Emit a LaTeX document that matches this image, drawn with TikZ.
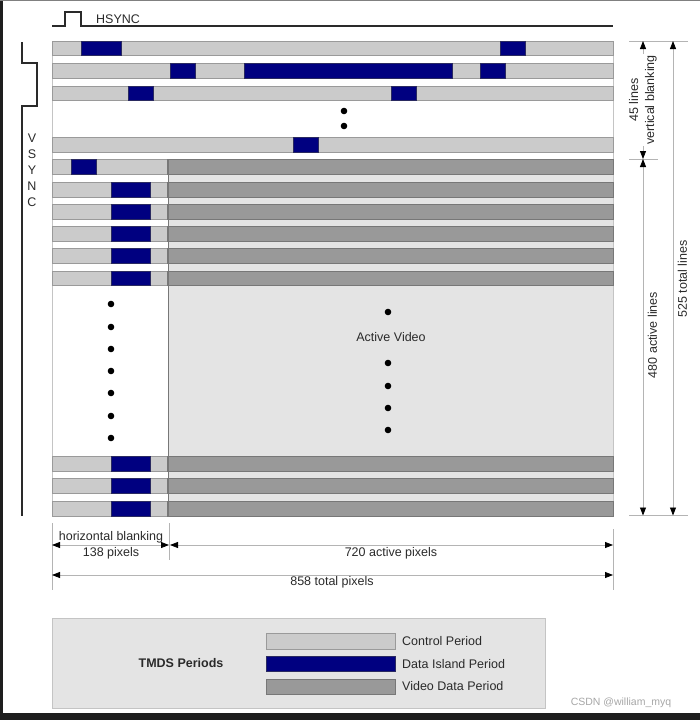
\documentclass[tikz,border=0pt]{standalone}
\usepackage{fontspec}
\setmainfont{Liberation Sans}
\usepackage{tikz}
\usetikzlibrary{arrows.meta}
\definecolor{ctrlgray}{HTML}{CBCBCB}
\definecolor{rowedge}{HTML}{9A9A9A}
\definecolor{islandblue}{HTML}{000080}
\definecolor{islandedge}{HTML}{2A2A60}
\definecolor{videogray}{HTML}{999999}
\definecolor{videoedge}{HTML}{777777}
\definecolor{activebg}{HTML}{E4E4E4}
\definecolor{dimgray}{HTML}{B4B4B4}
\definecolor{labelgray}{HTML}{2A2A2A}
\definecolor{framegray}{HTML}{C4C4C4}
\definecolor{screenedge}{HTML}{1E1E1E}

\begin{document}
\begin{tikzpicture}[x=1pt,y=-1pt]
\tikzset{ctrl/.style={draw=rowedge, fill=ctrlgray, line width=0.8pt},
  island/.style={draw=islandedge, fill=islandblue, line width=0.8pt},
  video/.style={draw=videoedge, fill=videogray, line width=0.8pt},
  lbl/.style={font=\fontsize{12.5}{16}\selectfont, text=labelgray, inner sep=1pt},
  dimline/.style={draw=dimgray, line width=0.8pt,
    arrows={Triangle[black,length=8pt,width=6pt]-Triangle[black,length=8pt,width=6pt]}},
  tick/.style={draw=dimgray, line width=0.8pt},
  sync/.style={draw=labelgray, line width=1.4pt},
  blob/.style={fill=black}
}
\useasboundingbox (0,0) rectangle (700,720);
\fill[screenedge] (0,0) rectangle (2.5,720);
\fill[screenedge] (0,713) rectangle (700,720);
\draw[gray, line width=0.8pt] (0,0.5) -- (700,0.5);

% sync signals
\draw[sync] (52,26) -- (65,26) -- (65,12) -- (81,12) -- (81,26) -- (613,26);
\node[lbl, anchor=west] (hsync) at (95,19) {HSYNC};
\draw[sync] (22,42) -- (22,63) -- (37,63) -- (37,106) -- (22,106) -- (22,516);
\node[lbl, align=center] (vsync) at (32,170) {V\\S\\Y\\N\\C};

% frame and active area
\fill[activebg] (168,159) rectangle (613,516);
\draw[framegray, line width=0.8pt] (52,41) rectangle (613,516);

% vertical blanking lines
\draw[ctrl] (52,41) rectangle (613,55);
\draw[island] (81,41) rectangle (121,55); \draw[island] (500,41) rectangle (525,55);
\draw[ctrl] (52,63) rectangle (613,78);
\draw[island] (170,63) rectangle (195,78); \draw[island] (244,63) rectangle (452,78);
\draw[island] (480,63) rectangle (505,78);
\draw[ctrl] (52,86) rectangle (613,100);
\draw[island] (128,86) rectangle (153,100); \draw[island] (391,86) rectangle (416,100);
\fill[blob] (344,111) circle (3.3); \fill[blob] (344,126) circle (3.3);
\draw[ctrl] (52,137) rectangle (613,152);
\draw[island] (293,137) rectangle (318,152);

% active lines
\draw[ctrl] (52,159) rectangle (168,174); \draw[island] (71,159) rectangle (96,174); \draw[video] (167,159) rectangle (613,174);
\draw[ctrl] (52,182) rectangle (168,197); \draw[island] (111,182) rectangle (150,197); \draw[video] (167,182) rectangle (613,197);
\draw[ctrl] (52,204) rectangle (168,219); \draw[island] (111,204) rectangle (150,219); \draw[video] (167,204) rectangle (613,219);
\draw[ctrl] (52,226) rectangle (168,241); \draw[island] (111,226) rectangle (150,241); \draw[video] (167,226) rectangle (613,241);
\draw[ctrl] (52,248) rectangle (168,263); \draw[island] (111,248) rectangle (150,263); \draw[video] (167,248) rectangle (613,263);
\draw[ctrl] (52,271) rectangle (168,285); \draw[island] (111,271) rectangle (150,285); \draw[video] (167,271) rectangle (613,285);
\draw[ctrl] (52,456) rectangle (168,471); \draw[island] (111,456) rectangle (150,471); \draw[video] (167,456) rectangle (613,471);
\draw[ctrl] (52,478) rectangle (168,493); \draw[island] (111,478) rectangle (150,493); \draw[video] (167,478) rectangle (613,493);
\draw[ctrl] (52,501) rectangle (168,516); \draw[island] (111,501) rectangle (150,516); \draw[video] (167,501) rectangle (613,516);
\draw[videoedge, line width=1.2pt] (168.5,159) -- (168.5,516);

\fill[blob] (111,304) circle (3.3); \fill[blob] (111,327) circle (3.3);
\fill[blob] (111,349) circle (3.3); \fill[blob] (111,371) circle (3.3);
\fill[blob] (111,393) circle (3.3); \fill[blob] (111,416) circle (3.3);
\fill[blob] (111,438) circle (3.3);
\fill[blob] (388,312) circle (3.3);
\node[lbl] (active) at (391,337) {Active Video};
\fill[blob] (388,363) circle (3.3); \fill[blob] (388,386) circle (3.3);
\fill[blob] (388,408) circle (3.3); \fill[blob] (388,430) circle (3.3);

% line counts
\draw[tick] (629,41) -- (688,41);
\draw[tick] (629,159) -- (658,159);
\draw[tick] (629,515.5) -- (688,515.5);
\coordinate (vbtop) at (643,41);
\coordinate (vbbot) at (643,159);
\coordinate (albot) at (643,515.5);
\coordinate (tltop) at (673,41);
\coordinate (tlbot) at (673,515.5);
\draw[dimline] (vbtop) -- (vbbot);
\draw[dimline] (vbbot) -- (albot);
\draw[dimline] (tltop) -- (tlbot);
\node[lbl, rotate=90, align=center, fill=white] (vblank) at (643,100) {45 lines\\vertical blanking};
\node[lbl, rotate=90] (alines) at (652.5,335) {480 active lines};
\node[lbl, rotate=90] (tlines) at (682.5,279) {525 total lines};

% pixel counts
\draw[tick] (52,523) -- (52,590);
\draw[tick] (169.5,523) -- (169.5,560);
\draw[tick] (613,529) -- (613,590);
\coordinate (hbl) at (52,545);
\coordinate (hbr) at (169,545);
\coordinate (apl) at (170,545);
\coordinate (apr) at (613,545);
\coordinate (tpl) at (52,575);
\coordinate (tpr) at (613,575);
\draw[dimline] (hbl) -- (hbr);
\draw[dimline] (apl) -- (apr);
\draw[dimline] (tpl) -- (tpr);
\node[lbl] (hblank) at (111,537) {horizontal blanking};
\node[lbl] (hpix) at (111,553) {138 pixels};
\node[lbl] (apix) at (391,553) {720 active pixels};
\node[lbl] (tpix) at (332,582) {858 total pixels};

% legend
\draw[draw=framegray, fill=activebg, line width=0.8pt] (52,618) rectangle (545,708);
\node[lbl, font=\fontsize{12.5}{16}\selectfont\bfseries] (tmds) at (181,663) {TMDS Periods};
\draw[ctrl] (266,633) rectangle (395,649);
\draw[island] (266,656) rectangle (395,671);
\draw[video] (266,679) rectangle (395,694);
\node[lbl, anchor=west] (lctrl) at (401,641) {Control Period};
\node[lbl, anchor=west] (lisland) at (401,664) {Data Island Period};
\node[lbl, anchor=west] (lvideo) at (401,686) {Video Data Period};
\node[font=\fontsize{10.5}{12}\selectfont, text=gray!70, inner sep=0pt] (csdn) at (621,703) {CSDN @william\_myq};
\end{tikzpicture}
\end{document}
